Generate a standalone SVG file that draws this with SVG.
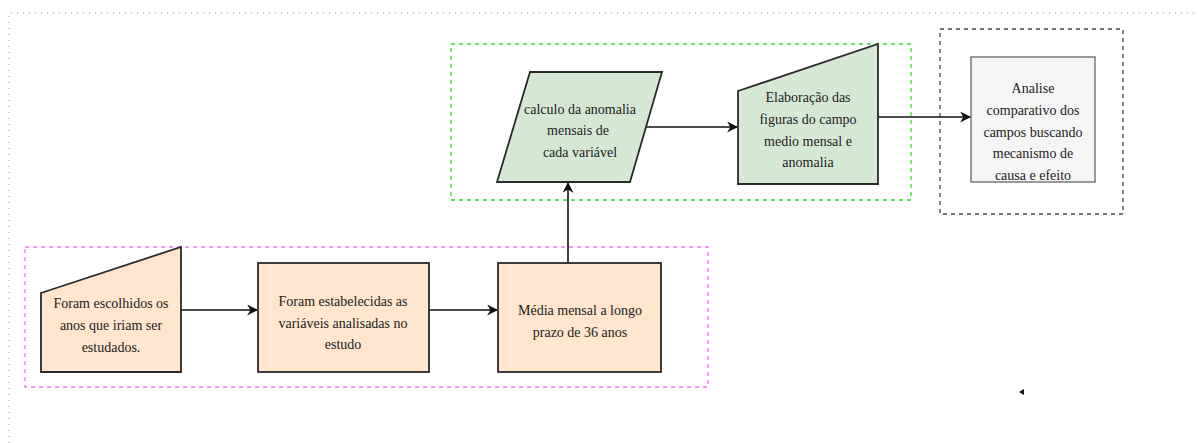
<svg xmlns="http://www.w3.org/2000/svg" width="1198" height="443" viewBox="0 0 1198 443">
<style>
text{font-family:"Liberation Serif","Times New Roman",serif;font-size:14px;fill:#222;text-anchor:middle}
.orange{fill:#ffe6cc;stroke:#2a2a2a;stroke-width:1.8}
.green{fill:#d5e8d4;stroke:#2a2a2a;stroke-width:1.8}
.gray{fill:#f5f5f5;stroke:#666;stroke-width:1.3}
.edge{fill:none;stroke:#111;stroke-width:1.6}
.grp{fill:none;stroke-width:1.3;stroke-dasharray:4 4}
</style>
<defs>
<marker id="arr" viewBox="0 0 10 10" refX="9" refY="5" markerWidth="11" markerHeight="11" markerUnits="userSpaceOnUse" orient="auto">
<path d="M0,0 L10,5 L0,10 L3,5 Z" fill="#111"/>
</marker>
</defs>
<rect width="1198" height="443" fill="#fff"/>
<g id="page-border">
<path d="M9,443 V13 H1198" fill="none" stroke="#999" stroke-width="1" stroke-dasharray="1 5"/>
</g>
<g id="groups">
<rect class="grp" x="25" y="247" width="683" height="140" stroke="#ee77ee"/>
<rect class="grp" x="451" y="44" width="460" height="156" stroke="#33dd33"/>
<rect class="grp" x="940" y="29" width="183" height="185" stroke="#444"/>
</g>
<g id="connectors">
<path class="edge" d="M181,310 H257" marker-end="url(#arr)"/>
<path class="edge" d="M429,310 H497" marker-end="url(#arr)"/>
<path class="edge" d="M568,263 V183" marker-end="url(#arr)"/>
<path class="edge" d="M646,127 H737" marker-end="url(#arr)"/>
<path class="edge" d="M878,117 H970" marker-end="url(#arr)"/>
</g>
<g id="node1">
<path class="orange" d="M41,293 L181,247 L181,372 L41,372 Z"/>
<text x="111" y="308">Foram escolhidos os</text>
<text x="111" y="330">anos que iriam ser</text>
<text x="111" y="352">estudados.</text>
</g>
<g id="node2">
<rect class="orange" x="258" y="263" width="171" height="109"/>
<text x="343" y="306">Foram estabelecidas as</text>
<text x="343" y="328">variáveis  analisadas no</text>
<text x="343" y="349">estudo</text>
</g>
<g id="node3">
<rect class="orange" x="498" y="263" width="163" height="109"/>
<text x="580" y="315">Média mensal a longo</text>
<text x="580" y="337">prazo de 36 anos</text>
</g>
<g id="node4">
<path class="green" d="M530,72 L662,72 L630,182 L497,182 Z"/>
<text x="580" y="114">calculo da anomalia</text>
<text x="578" y="135">mensais de</text>
<text x="580" y="157">cada variável</text>
</g>
<g id="node5">
<path class="green" d="M738,91 L878,44 L878,184 L738,184 Z"/>
<text x="808" y="102">Elaboração das</text>
<text x="808" y="124">figuras do campo</text>
<text x="808" y="146">medio mensal e</text>
<text x="808" y="167">anomalia</text>
</g>
<g id="node6">
<rect class="gray" x="971" y="57" width="124" height="125"/>
<text x="1033" y="93">Analise</text>
<text x="1033" y="115">comparativo dos</text>
<text x="1033" y="137">campos buscando</text>
<text x="1033" y="158">mecanismo de</text>
<text x="1033" y="180">causa e efeito</text>
</g>
<g id="stray-mark">
<path d="M1019,392 L1024,389 L1024,395 Z" fill="#111"/>
</g>
</svg>
